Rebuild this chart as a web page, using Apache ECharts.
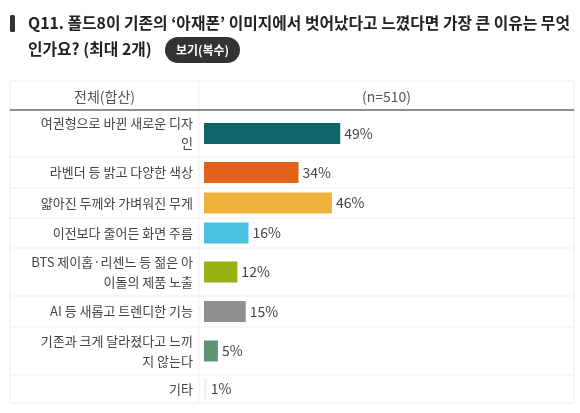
<!DOCTYPE html>
<html>
<head>
<meta charset="utf-8">
<script src="https://cdn.jsdelivr.net/npm/echarts@6/dist/echarts.min.js"></script>
<style>
html,body{margin:0;padding:0;background:#fff;}
#c{width:580px;height:413px;}
</style>
</head>
<body>
<div id="c"></div>
<script>
// ---- data ----
const titleLines = [
  "Q11. 폴드8이 기존의 ‘아재폰’ 이미지에서 벗어났다고 느꼈다면 가장 큰 이유는 무엇",
  "인가요? (최대 2개)"
];
const badgeText = "보기(복수)";
const headerLeft = "전체(합산)";
const headerRight = "(n=510)";
const categories = [
  "여권형으로 바뀐 새로운 디자인",
  "라벤더 등 밝고 다양한 색상",
  "얇아진 두께와 가벼워진 무게",
  "이전보다 줄어든 화면 주름",
  "BTS 제이홉·리센느 등 젊은 아이돌의 제품 노출",
  "AI 등 새롭고 트렌디한 기능",
  "기존과 크게 달라졌다고 느끼지 않는다",
  "기타"
];
const values = [49, 34, 46, 16, 12, 15, 5, 1];
const colors = ["#0f6369", "#e2621b", "#ecb23a", "#47c1dc", "#95b414", "#8f8f8f", "#5f9274", "#f0f0f0"];

// ---- layout ----
const tableLeft = 10, tableRight = 574, tableTop = 81, headerBottom = 110, colDiv = 199;
const rowHeights = [47, 31, 30, 30, 48, 31, 48, 28];
const labelWidths = [170, 170, 170, 170, 182, 170, 170, 170];
const barLeft = 204, barScaleWidth = 278;
const font = '"Noto Sans CJK KR", "Noto Sans", sans-serif';

const chart = echarts.init(document.getElementById('c'), null, {renderer: 'canvas'});

const grids = [], xAxes = [], yAxes = [], series = [];
const graphics = [];
let y = headerBottom;
const rowTops = [];
categories.forEach((cat, i) => {
  rowTops.push(y);
  grids.push({left: barLeft, top: y, width: barScaleWidth, height: rowHeights[i], containLabel: false});
  xAxes.push({type: 'value', gridIndex: i, min: 0, max: 100, show: false});
  yAxes.push({
    type: 'category', gridIndex: i, data: [cat],
    axisLine: {show: false}, axisTick: {show: false}, splitLine: {show: false},
    axisLabel: {
      margin: 11, width: labelWidths[i], overflow: 'break', align: 'right',
      fontSize: 13, lineHeight: 20, color: '#444', fontFamily: font
    }
  });
  series.push({
    type: 'bar', xAxisIndex: i, yAxisIndex: i, data: [values[i]],
    barWidth: 21, silent: true,
    itemStyle: {color: colors[i]},
    label: {show: true, position: 'right', distance: 4, formatter: '{c}%',
      fontSize: 14, color: '#444', fontFamily: font}
  });
  y += rowHeights[i];
});
const tableBottom = y;

// table lines
const light = '#eceff4';
graphics.push({type: 'rect', shape: {x: tableLeft, y: tableTop, width: tableRight - tableLeft, height: tableBottom - tableTop},
  style: {fill: 'none', stroke: light, lineWidth: 1}, z: -1});
graphics.push({type: 'line', shape: {x1: colDiv, y1: tableTop, x2: colDiv, y2: tableBottom}, style: {stroke: light, lineWidth: 1}, z: -1});
rowTops.slice(1).forEach(t => {
  graphics.push({type: 'line', shape: {x1: tableLeft, y1: t, x2: tableRight, y2: t}, style: {stroke: light, lineWidth: 1}, z: -1});
});
graphics.push({type: 'line', shape: {x1: tableLeft, y1: headerBottom, x2: tableRight, y2: headerBottom}, style: {stroke: '#676b6e', lineWidth: 1.5}, z: 5});
// header texts
graphics.push({type: 'text', x: (tableLeft + colDiv) / 2, y: (tableTop + headerBottom) / 2 + 1,
  style: {text: headerLeft, fill: '#555', font: '14px ' + font, textAlign: 'center', textVerticalAlign: 'middle'}});
graphics.push({type: 'text', x: (colDiv + tableRight) / 2, y: (tableTop + headerBottom) / 2 + 1,
  style: {text: headerRight, fill: '#555', font: '14px ' + font, textAlign: 'center', textVerticalAlign: 'middle'}});
// title marker
graphics.push({type: 'rect', shape: {x: 10, y: 15, width: 5, height: 17, r: 1.5}, style: {fill: '#333'}});
// title lines
titleLines.forEach((t, i) => {
  graphics.push({type: 'text', x: 28, y: 23 + i * 26,
    style: {text: t, fill: '#222', font: 'bold 15.8px ' + font, textAlign: 'left', textVerticalAlign: 'middle'}});
});
// badge
graphics.push({type: 'rect', shape: {x: 165, y: 37, width: 75, height: 26, r: 13}, style: {fill: '#333'}});
graphics.push({type: 'text', x: 202.5, y: 50,
  style: {text: badgeText, fill: '#fff', font: 'bold 12px ' + font, textAlign: 'center', textVerticalAlign: 'middle'}});

chart.setOption({
  animation: false,
  backgroundColor: '#fff',
  grid: grids, xAxis: xAxes, yAxis: yAxes, series: series,
  graphic: graphics
});
</script>
</body>
</html>
